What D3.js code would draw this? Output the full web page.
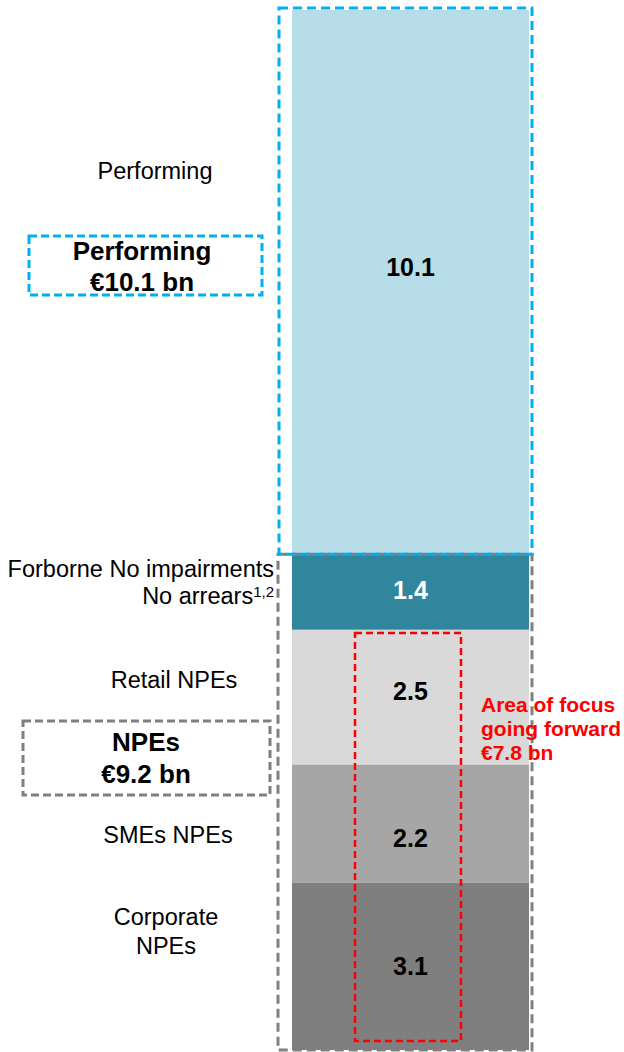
<!DOCTYPE html>
<html>
<head>
<meta charset="utf-8">
<script src="https://cdn.jsdelivr.net/npm/d3@7"></script>
<style>
  body { margin: 0; background: #fff; }
  svg { font-family: "Liberation Sans", Arial, sans-serif; }
</style>
</head>
<body>
<svg id="chart" width="624" height="1052"></svg>
<script>
// segments, bottom to top
const categories = ["Corporate NPEs", "SMEs NPEs", "Retail NPEs", "Forborne No impairments No arrears", "Performing"];
const values = [3.1, 2.2, 2.5, 1.4, 10.1];
const colors = ["#7f7f7f", "#a6a6a6", "#d9d9d9", "#31859c", "#b7dde8"];
const valueColors = ["#000", "#000", "#000", "#fff", "#000"];
// nudge of each value label from its segment centre (px)
const labelShift = [0, 14, -6, -2, -15];

const svg = d3.select("#chart");

// running totals for the stack
let acc = 0;
const rows = categories.map(function (c, i) {
  const r = { name: c, value: values[i], y0: acc, y1: acc + values[i], color: colors[i], tc: valueColors[i], shift: labelShift[i] };
  acc += values[i];
  return r;
});
const total = acc;

const xScale = d3.scaleBand().domain(["bar"]).range([292, 529]);
const yScale = d3.scaleLinear().domain([0, total]).range([1050, 10]);

svg.selectAll(".seg")
  .data(rows)
  .enter()
  .append("rect")
  .attr("class", "seg")
  .attr("x", xScale("bar"))
  .attr("width", xScale.bandwidth())
  .attr("y", function (d) { return yScale(d.y1); })
  .attr("height", function (d) { return yScale(d.y0) - yScale(d.y1); })
  .attr("fill", function (d) { return d.color; });

svg.selectAll(".val")
  .data(rows)
  .enter()
  .append("text")
  .attr("class", "val")
  .attr("x", xScale("bar") + xScale.bandwidth() / 2)
  .attr("y", function (d) {
    return (yScale(d.y0) + yScale(d.y1)) / 2 + 9 + d.shift;
  })
  .attr("text-anchor", "middle")
  .attr("font-size", "25px")
  .attr("font-weight", "bold")
  .attr("fill", function (d) { return d.tc; })
  .text(function (d) { return d.value.toFixed(1); });

// left-hand labels
function addLabel(lines, x, y) {
  const t = svg.append("text")
    .attr("x", x)
    .attr("y", y)
    .attr("text-anchor", "middle")
    .attr("font-size", "23.5px")
    .attr("fill", "#000");
  lines.forEach(function (l, i) {
    t.append("tspan").attr("x", x).attr("dy", i == 0 ? 0 : 29).text(l);
  });
  return t;
}
addLabel(["Performing"], 155, 179);
addLabel(["Retail NPEs"], 174, 688);
addLabel(["SMEs NPEs"], 168, 843);
addLabel(["Corporate", "NPEs"], 166, 925);

// forborne label, right aligned against the bar
svg.append("text")
  .attr("x", 274).attr("y", 577)
  .attr("text-anchor", "end")
  .attr("font-size", "23.5px")
  .text("Forborne No impairments");
const arr = svg.append("text")
  .attr("x", 274).attr("y", 604)
  .attr("text-anchor", "end")
  .attr("font-size", "23.5px");
arr.append("tspan").text("No arrears");
arr.append("tspan").attr("font-size", "15px").attr("dy", -7).text("1,2");

// dashed group boxes around the bar
const npeTop = yScale(rows[3].y1);
svg.append("rect")
  .attr("x", 278).attr("y", npeTop)
  .attr("width", 254).attr("height", 1050 - npeTop)
  .attr("fill", "none").attr("stroke", "#808080")
  .attr("stroke-width", 3).attr("stroke-dasharray", "9,5");

svg.append("rect")
  .attr("x", 279).attr("y", 8)
  .attr("width", 253).attr("height", npeTop - 8)
  .attr("fill", "none").attr("stroke", "#00b0f0")
  .attr("stroke-width", 3).attr("stroke-dasharray", "9,5");

// side summary boxes
function summaryBox(x, y, w, h, stroke, lines, cx, baselines) {
  svg.append("rect")
    .attr("x", x).attr("y", y).attr("width", w).attr("height", h)
    .attr("fill", "none").attr("stroke", stroke)
    .attr("stroke-width", 3).attr("stroke-dasharray", "8,4");
  lines.forEach(function (l, i) {
    svg.append("text").attr("x", cx).attr("y", baselines[i])
      .attr("text-anchor", "middle").attr("font-size", "26px").attr("font-weight", "bold")
      .text(l);
  });
}
summaryBox(29, 236, 233, 59, "#00b0f0", ["Performing", "€10.1 bn"], 142, [260, 291]);
summaryBox(23, 721, 247, 74, "#808080", ["NPEs", "€9.2 bn"], 146, [751, 783]);

// area of focus
svg.append("rect")
  .attr("x", 355).attr("y", 633).attr("width", 106).attr("height", 408)
  .attr("fill", "none").attr("stroke", "#ff0000")
  .attr("stroke-width", 2.5).attr("stroke-dasharray", "7,4");
const focus = svg.append("text")
  .attr("x", 481).attr("y", 712)
  .attr("font-size", "21px").attr("font-weight", "bold").attr("fill", "#ff0000");
["Area of focus", "going forward", "€7.8 bn"].forEach(function (l, i) {
  focus.append("tspan").attr("x", 481).attr("dy", i == 0 ? 0 : 24).text(l);
});
</script>
</body>
</html>
